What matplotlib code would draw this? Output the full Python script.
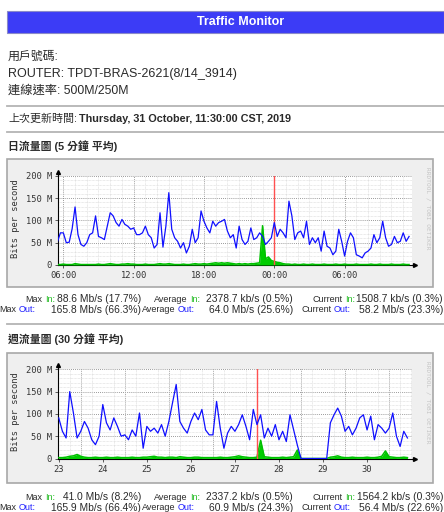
import numpy as np
import matplotlib
matplotlib.use("Agg")
import matplotlib.pyplot as plt
from matplotlib.patches import Rectangle
from matplotlib.lines import Line2D
from matplotlib.ticker import MultipleLocator

W, H = 444, 512
SANS = ["Liberation Sans", "Noto Sans CJK TC", "DejaVu Sans"]
MONO = ["DejaVu Sans Mono"]
plt.rcParams["font.family"] = SANS

# ---------------- data ----------------
header_title = "Traffic Monitor"
user_label = "用戶號碼:"
router_label = "ROUTER: TPDT-BRAS-2621(8/14_3914)"
rate_label = "連線速率: 500M/250M"
update_label = "上次更新時間:"
update_time = "Thursday, 31 October, 11:30:00 CST, 2019"
daily_title = "日流量圖 (5 分鐘 平均)"
weekly_title = "週流量圖 (30 分鐘 平均)"
ylabel = "Bits per second"
watermark = "RRDTOOL / TOBI OETIKER"

y_ticks = [0, 50, 100, 150, 200]
y_tick_labels = ["0", "50 M", "100 M", "150 M", "200 M"]

# daily graph: hours since 30 Oct 00:00, 15-minute samples
daily_start = 5.5
daily_step = 0.25
daily_out = [52, 72, 72, 50, 51, 81, 130, 68, 46, 42, 50, 68, 72, 110, 64, 61,
             57, 87, 117, 110, 95, 87, 102, 91, 87, 80, 83, 68, 68, 72, 87, 68,
             61, 38, 46, 117, 40, 87, 162, 80, 61, 53, 38, 50, 27, 42, 80, 50,
             61, 121, 98, 83, 72, 98, 87, 95, 98, 102, 76, 61, 68, 38, 87, 57,
             46, 53, 83, 57, 61, 72, 64, 46, 53, 61, 95, 64, 80, 72, 61, 143,
             110, 57, 72, 76, 61, 98, 46, 61, 50, 61, 31, 76, 42, 38, 23, 31,
             80, 53, 20, 53, 72, 61, 23, 20, 16, 27, 31, 38, 68, 50, 61, 98,
             61, 42, 46, 64, 50, 53, 72, 53, 64]
daily_in = [1, 1, 2, 1, 1, 1, 3, 2, 1, 1, 1, 1, 1, 1, 2, 1,
            1, 2, 3, 2, 1, 1, 2, 2, 3, 2, 2, 1, 1, 1, 2, 1,
            1, 1, 2, 3, 2, 2, 3, 2, 1, 1, 1, 2, 1, 1, 2, 3,
            2, 2, 3, 2, 3, 4, 5, 4, 5, 4, 5, 4, 3, 2, 3, 2,
            3, 2, 3, 3, 4, 5, 88, 14, 18, 10, 8, 6, 5, 3, 2, 2,
            1, 2, 1, 1, 2, 1, 1, 2, 1, 1, 1, 2, 1, 1, 1, 2,
            1, 1, 2, 1, 1, 1, 2, 1, 1, 1, 1, 2, 1, 1, 2, 1,
            1, 1, 2, 1, 1, 1, 2, 1, 1]
daily_xlim = (5.57, 35.75)
daily_major = [6, 12, 18, 24, 30]
daily_tick_labels = ["06:00", "12:00", "18:00", "00:00", "06:00"]
daily_red = 24

# weekly graph: day of October, 2-hour samples
weekly_start = 23.5
weekly_step = 1 / 12
weekly_out = [91, 61, 46, 150, 102, 46, 61, 83, 68, 42, 31, 50, 121, 80, 64, 91,
              72, 50, 53, 42, 64, 50, 102, 23, 72, 61, 68, 57, 76, 50, 83, 125,
              166, 83, 68, 57, 83, 102, 87, 110, 64, 53, 53, 128, 68, 23, 57, 72,
              61, 76, 98, 72, 42, 110, 76, 98, 46, 68, 50, 76, 42, 61, 38, 98,
              64, 30, 0, 0, 0, 0, 0, 0, 0, 0, 80, 98, 113, 95, 61, 72,
              53, 68, 91, 98, 64, 95, 42, 76, 68, 57, 68, 102, 50, 27, 61, 46]
weekly_in = [2, 2, 3, 5, 6, 9, 5, 3, 2, 2, 3, 2, 2, 3, 2, 2,
             3, 2, 2, 2, 3, 2, 2, 3, 3, 4, 5, 3, 3, 2, 3, 3,
             2, 4, 3, 2, 2, 3, 3, 2, 2, 2, 2, 2, 3, 2, 2, 3,
             4, 6, 4, 3, 2, 2, 3, 41, 4, 3, 2, 2, 2, 3, 2, 3,
             4, 19, 0, 0, 0, 0, 0, 0, 0, 0, 3, 4, 6, 3, 2, 2,
             3, 2, 2, 2, 3, 2, 2, 3, 5, 17, 4, 3, 2, 2, 3, 2]
weekly_xlim = (23.49, 31.52)
weekly_major = [24, 25, 26, 27, 28, 29, 30, 31]
weekly_tick_pos = [23.5, 24.5, 25.5, 26.5, 27.5, 28.5, 29.5, 30.5]
weekly_tick_labels = ["23", "24", "25", "26", "27", "28", "29", "30"]
weekly_red = 28

stat_names = ["Max", "Average", "Current"]
daily_stats_in = ["88.6 Mb/s (17.7%)", "2378.7 kb/s (0.5%)", "1508.7 kb/s (0.3%)"]
daily_stats_out = ["165.8 Mb/s (66.3%)", "64.0 Mb/s (25.6%)", "58.2 Mb/s (23.3%)"]
weekly_stats_in = ["41.0 Mb/s (8.2%)", "2337.2 kb/s (0.5%)", "1564.2 kb/s (0.3%)"]
weekly_stats_out = ["165.9 Mb/s (66.4%)", "60.9 Mb/s (24.3%)", "56.4 Mb/s (22.6%)"]

# ---------------- figure ----------------
fig = plt.figure(figsize=(W / 100, H / 100), dpi=100)
fig.patch.set_facecolor("white")
TXT = "#2a2a2a"


def fx(x):
    return x / W


def fy(y):
    return 1 - y / H


def hline(y, x0=7, x1=444, color="#b4b4b4", lw=1.3):
    fig.add_artist(Line2D([fx(x0), fx(x1)], [fy(y), fy(y)],
                          transform=fig.transFigure, color=color, lw=lw))


def text(x, y, s, **kw):
    kw.setdefault("va", "center")
    kw.setdefault("ha", "left")
    kw.setdefault("color", TXT)
    return fig.text(fx(x), fy(y), s, **kw)


# header bar
fig.add_artist(Rectangle((fx(7), fy(33)), fx(444) - fx(7), (33 - 11) / H,
                         transform=fig.transFigure, facecolor="#3c3cf6",
                         edgecolor="#8a8ac8", lw=0.8))
text(241, 22, header_title, ha="center", color="white", fontsize=9, fontweight="bold")

text(8, 57, user_label, fontsize=8.6)
text(8, 74, router_label, fontsize=9)
text(8, 91, rate_label, fontsize=8.8)
hline(106)
text(8, 119, update_label, fontsize=7.9)
text(79, 119, update_time, fontsize=7.8, fontweight="bold")
hline(132)
text(8, 146, daily_title, fontsize=7.8, fontweight="bold")
hline(324)
text(8, 339, weekly_title, fontsize=7.8, fontweight="bold")


def graph(box_top, box_bot, ax_top, ax_bot, xlim, t0, step, out_vals, in_vals,
          majors, minor_step, tick_pos, tick_labels, red_x):
    fig.add_artist(Rectangle((fx(7), fy(box_bot)), fx(433) - fx(7), (box_bot - box_top) / H,
                             transform=fig.transFigure, facecolor="#efefef",
                             edgecolor="#a8a8a8", lw=1.2, zorder=0))
    ax = fig.add_axes([fx(58.3), fy(ax_bot), fx(412) - fx(58.3), (ax_bot - ax_top) / H])
    ax.set_facecolor("white")
    ax.set_xlim(*xlim)
    ax.set_ylim(0, 200)
    ax.xaxis.set_minor_locator(MultipleLocator(minor_step))
    ax.yaxis.set_minor_locator(MultipleLocator(10))
    ax.grid(which="minor", color="#d6d6d6", lw=0.5, ls=(0, (1, 1)))
    ax.grid(which="major", visible=False)
    for v in majors:
        ax.axvline(v, color="#7a7a7a", lw=0.6, ls=(0, (1, 1.5)), zorder=1)
    for v in y_ticks[1:]:
        ax.axhline(v, color="#7a7a7a", lw=0.6, ls=(0, (1, 1.5)), zorder=1)

    t = t0 + step * np.arange(len(out_vals))
    ax.fill_between(t, 0, in_vals, color="#00cc00", lw=0, zorder=3)
    ax.plot(t, in_vals, color="#00c000", lw=1.1, zorder=3)
    ax.axvline(red_x, color="#ff5050", lw=1.0, zorder=3.5)
    ax.plot(t, out_vals, color="#1010ff", lw=0.9, zorder=4)

    for s in ["top", "right"]:
        ax.spines[s].set_visible(False)
    for s in ["left", "bottom"]:
        ax.spines[s].set_color("black")
        ax.spines[s].set_linewidth(0.8)
    ax.set_yticks(y_ticks, y_tick_labels)
    ax.set_xticks(tick_pos, tick_labels)
    ax.tick_params(which="major", length=2, width=0.6, pad=2.5, labelsize=6.3,
                   labelcolor="#333333", color="#444444")
    ax.tick_params(which="minor", length=0)
    for lab in ax.get_xticklabels() + ax.get_yticklabels():
        lab.set_family(MONO)
    # axis arrows
    ax.plot([0, 0], [1, 1.045], transform=ax.transAxes, color="k", lw=0.8, clip_on=False)
    ax.plot([0], [1.045], marker="^", ms=2.8, color="k", transform=ax.transAxes, clip_on=False)
    ax.plot([1, 1.008], [0, 0], transform=ax.transAxes, color="k", lw=0.8, clip_on=False)
    ax.plot([1.008], [0], marker=">", ms=2.8, color="k", transform=ax.transAxes, clip_on=False)

    text(15, (ax_top + ax_bot) / 2 - 2, ylabel, ha="center", rotation=90,
         rotation_mode="anchor", family=MONO, fontsize=6.3, color="#333333")
    text(427.5, (ax_top + ax_bot) / 2 - 12, watermark, ha="center", rotation=270,
         rotation_mode="anchor", family=MONO, fontsize=4.4, color="#c4c4c4")
    return ax


graph(159, 287, 175.7, 265, daily_xlim, daily_start, daily_step, daily_out, daily_in,
      daily_major, 1, daily_major, daily_tick_labels, daily_red)
graph(353, 483, 369.3, 458.5, weekly_xlim, weekly_start, weekly_step, weekly_out, weekly_in,
      weekly_major, 0.25, weekly_tick_pos, weekly_tick_labels, weekly_red)


def stats(y1, y2, vals_in, vals_out):
    lab_in_x = [45, 190, 345]
    lab_out_x = [19, 178, 334]
    val_x = [141, 293, 443]
    fs_lab = 6.5
    for i in range(3):
        text(lab_in_x[i] - 2.5, y1, stat_names[i], ha="right", fontsize=fs_lab)
        text(lab_in_x[i], y1, "In:", fontsize=fs_lab, color="#22bb22")
        text(val_x[i], y1, vals_in[i], ha="right", fontsize=7.4)
        text(lab_out_x[i] - 2.5, y2, stat_names[i], ha="right", fontsize=fs_lab)
        text(lab_out_x[i], y2, "Out:", fontsize=fs_lab, color="#2222ff")
        text(val_x[i], y2, vals_out[i], ha="right", fontsize=7.4)


stats(299, 310, daily_stats_in, daily_stats_out)
stats(497, 508, weekly_stats_in, weekly_stats_out)

fig.savefig("out.png", dpi=100, facecolor="white")
